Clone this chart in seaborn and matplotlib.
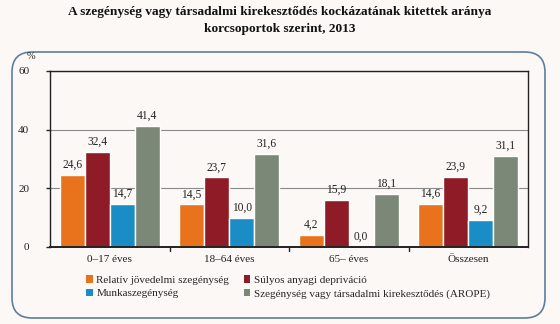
import matplotlib
matplotlib.use("Agg")
import matplotlib.pyplot as plt
from matplotlib.patches import FancyBboxPatch, Patch
import pandas as pd
import seaborn as sns

# Age groups and indicator series (percent)
groups = ["0–17 éves", "18–64 éves", "65– éves", "Összesen"]
series = [
    "Relatív jövedelmi szegénység",
    "Súlyos anyagi depriváció",
    "Munkaszegénység",
    "Szegénység vagy társadalmi kirekesztődés (AROPE)",
]
relativ = [24.6, 14.5, 4.2, 14.6]
sulyos = [32.4, 23.7, 15.9, 23.9]
munka = [14.7, 10.0, 0.0, 9.2]
arope = [41.4, 31.6, 18.1, 31.1]
yticks = [0, 20, 40, 60]

colors = ["#E8731C", "#8E1B25", "#1A8DC6", "#7B8878"]
bg = "#FBF8F6"

rows = []
for name, vals in zip(series, [relativ, sulyos, munka, arope]):
    for g, v in zip(groups, vals):
        rows.append({"csoport": g, "mutato": name, "ertek": v})
df = pd.DataFrame(rows)

sns.set_theme(style="white")
plt.rcParams["font.family"] = ["Liberation Serif", "DejaVu Serif"]

fig = plt.figure(figsize=(5.6, 3.24), dpi=100, facecolor=bg)

# rounded frame around the chart area
frame = FancyBboxPatch((12 / 560, 1 - 318 / 324), 533 / 560, 266 / 324,
                       boxstyle="round,pad=0,rounding_size=0.036",
                       transform=fig.transFigure, facecolor="none",
                       edgecolor="#5F7E9C", linewidth=1.2, zorder=-5,
                       mutation_aspect=560 / 324)
fig.patches.append(frame)

ax = fig.add_axes([50 / 560, 1 - 247 / 324, 478 / 560, 176 / 324])
ax.set_facecolor(bg)

sns.barplot(data=df, x="csoport", y="ertek", hue="mutato", order=groups,
            hue_order=series, palette=colors, width=0.84, gap=0,
            saturation=1, ax=ax, legend=False)

for cont in ax.containers:
    ax.bar_label(cont, labels=[f"{b.get_height():.1f}".replace(".", ",") for b in cont],
                 padding=3, fontsize=8.3, color="#222222")

ax.set_ylim(0, 60)
ax.set_xlim(-0.5, 3.5)
ax.set_yticks(yticks)
ax.set_yticklabels([str(t) for t in yticks], fontsize=8, color="#222222")
ax.yaxis.grid(True, color="#8A8A8A", linewidth=0.8)
ax.set_axisbelow(True)
ax.set_xlabel("")
ax.set_ylabel("")
ax.tick_params(axis="x", length=0, labelsize=8, pad=6, colors="#222222")
ax.tick_params(axis="y", length=3, width=1, pad=12, direction="out", left=True)
for s in ax.spines.values():
    s.set_visible(True)
    s.set_color("#222222")
    s.set_linewidth(1.0)
ax.spines["bottom"].set_linewidth(1.4)

# tick marks between the age groups
for xb in [0.5, 1.5, 2.5]:
    ax.plot([xb, xb], [0, -1.4], color="#222222", lw=1, clip_on=False)

ax.text(-0.048, 1.08, "%", transform=ax.transAxes, fontsize=7.5,
        ha="left", va="center", color="#222222")

fig.text(0.5, 1 - 12 / 324, "A szegénység vagy társadalmi kirekesztődés kockázatának kitettek aránya",
         ha="center", va="center", fontsize=9.6, fontweight="bold", color="#111111")
fig.text(0.5, 1 - 29 / 324, "korcsoportok szerint, 2013",
         ha="center", va="center", fontsize=9.6, fontweight="bold", color="#111111")

order = [0, 2, 1, 3]
handles = [Patch(facecolor=colors[i], edgecolor="none") for i in order]
labels = [series[i] for i in order]
fig.legend(handles, labels, ncol=2, frameon=False, fontsize=8,
           loc="center left", bbox_to_anchor=(82 / 560, 1 - 287 / 324),
           handlelength=0.6, handleheight=0.6, handletextpad=0.3,
           columnspacing=1.3, labelspacing=0.35, borderaxespad=0)

fig.savefig("out.png", dpi=100, facecolor=bg)
